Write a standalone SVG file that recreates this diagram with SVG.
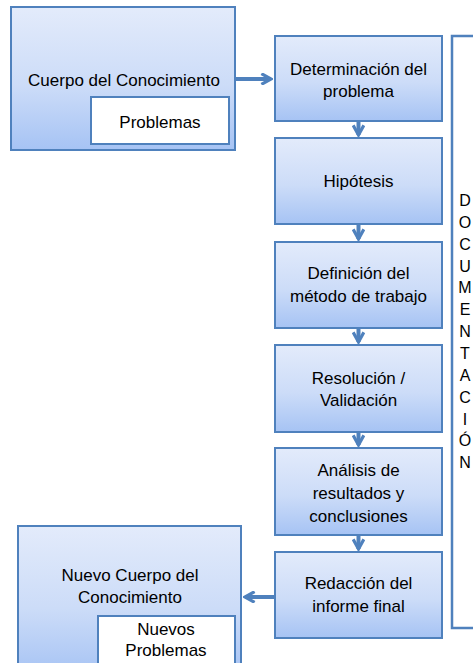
<svg xmlns="http://www.w3.org/2000/svg" width="473" height="663" viewBox="0 0 473 663">
  <defs>
    <linearGradient id="boxFill" x1="0" y1="0" x2="0" y2="1">
      <stop offset="0" stop-color="#E3EBFB"/>
      <stop offset="0.55" stop-color="#CCDCF8"/>
      <stop offset="1" stop-color="#A6C3F4"/>
    </linearGradient>
    <marker id="head" viewBox="0 0 12 12" refX="10" refY="6" markerWidth="3.2" markerHeight="3.2" markerUnits="strokeWidth" orient="auto">
      <path d="M1,1 L10,6 L1,11" fill="none" stroke="#4F81BD" stroke-width="3" stroke-linejoin="miter"/>
    </marker>
  </defs>
  <style>
    .box { fill: url(#boxFill); stroke: #4F81BD; stroke-width: 2; }
    .inner { fill: #FFFFFF; stroke: #4F81BD; stroke-width: 2; }
    .doc { fill: #FFFFFF; stroke: #4F81BD; stroke-width: 2.5; }
    .lbl { font-family: "Liberation Sans", Arial, sans-serif; font-size: 17px; fill: #000000; text-anchor: middle; }
    .vert { font-family: "Liberation Sans", Arial, sans-serif; font-size: 16px; fill: #000000; text-anchor: middle; }
    .conn { stroke: #4F81BD; stroke-width: 4; fill: none; marker-end: url(#head); }
  </style>

  <!-- documentation frame on the right, running past the edge -->
  <g id="documentacion">
    <rect class="doc" x="452" y="36" width="40" height="592"/>
    <text class="vert" x="465" y="206">D</text>
    <text class="vert" x="465" y="228">O</text>
    <text class="vert" x="465" y="250">C</text>
    <text class="vert" x="465" y="272">U</text>
    <text class="vert" x="465" y="293">M</text>
    <text class="vert" x="465" y="315">E</text>
    <text class="vert" x="465" y="337">N</text>
    <text class="vert" x="465" y="359">T</text>
    <text class="vert" x="465" y="381">A</text>
    <text class="vert" x="465" y="403">C</text>
    <text class="vert" x="465" y="425">I</text>
    <text class="vert" x="465" y="446">Ó</text>
    <text class="vert" x="465" y="468">N</text>
  </g>

  <g id="cuerpo">
    <rect class="box" x="11" y="7" width="224" height="143"/>
    <text class="lbl" x="124" y="86">Cuerpo del Conocimiento</text>
    <rect class="inner" x="91" y="97" width="138" height="47"/>
    <text class="lbl" x="160" y="128">Problemas</text>
  </g>

  <g id="determinacion">
    <rect class="box" x="275" y="36" width="167" height="85"/>
    <text class="lbl" x="358.5" y="75">Determinación del</text>
    <text class="lbl" x="358.5" y="97">problema</text>
  </g>

  <g id="hipotesis">
    <rect class="box" x="275" y="138" width="167" height="86"/>
    <text class="lbl" x="358.5" y="187">Hipótesis</text>
  </g>

  <g id="definicion">
    <rect class="box" x="275" y="242" width="167" height="86"/>
    <text class="lbl" x="358.5" y="279">Definición del</text>
    <text class="lbl" x="358.5" y="302">método de trabajo</text>
  </g>

  <g id="resolucion">
    <rect class="box" x="275" y="345" width="167" height="87"/>
    <text class="lbl" x="358.5" y="384">Resolución /</text>
    <text class="lbl" x="358.5" y="406">Validación</text>
  </g>

  <g id="analisis">
    <rect class="box" x="275" y="448" width="167" height="87"/>
    <text class="lbl" x="358.5" y="476">Análisis de</text>
    <text class="lbl" x="358.5" y="499">resultados y</text>
    <text class="lbl" x="358.5" y="522">conclusiones</text>
  </g>

  <g id="redaccion">
    <rect class="box" x="275" y="552" width="167" height="86"/>
    <text class="lbl" x="358.5" y="589">Redacción del</text>
    <text class="lbl" x="358.5" y="612">informe final</text>
  </g>

  <g id="nuevo-cuerpo">
    <rect class="box" x="18" y="526" width="223" height="150"/>
    <text class="lbl" x="130" y="581">Nuevo Cuerpo del</text>
    <text class="lbl" x="130" y="603">Conocimiento</text>
    <rect class="inner" x="98" y="616" width="137" height="52"/>
    <text class="lbl" x="166" y="635">Nuevos</text>
    <text class="lbl" x="166" y="656">Problemas</text>
  </g>

  <g id="connectors">
    <line class="conn" x1="236" y1="79" x2="271" y2="79"/>
    <line class="conn" x1="358.5" y1="122" x2="358.5" y2="135"/>
    <line class="conn" x1="358.5" y1="225" x2="358.5" y2="239"/>
    <line class="conn" x1="358.5" y1="329" x2="358.5" y2="342"/>
    <line class="conn" x1="358.5" y1="433" x2="358.5" y2="445"/>
    <line class="conn" x1="358.5" y1="536" x2="358.5" y2="549"/>
    <line class="conn" x1="274" y1="597" x2="245" y2="597"/>
  </g>
</svg>
